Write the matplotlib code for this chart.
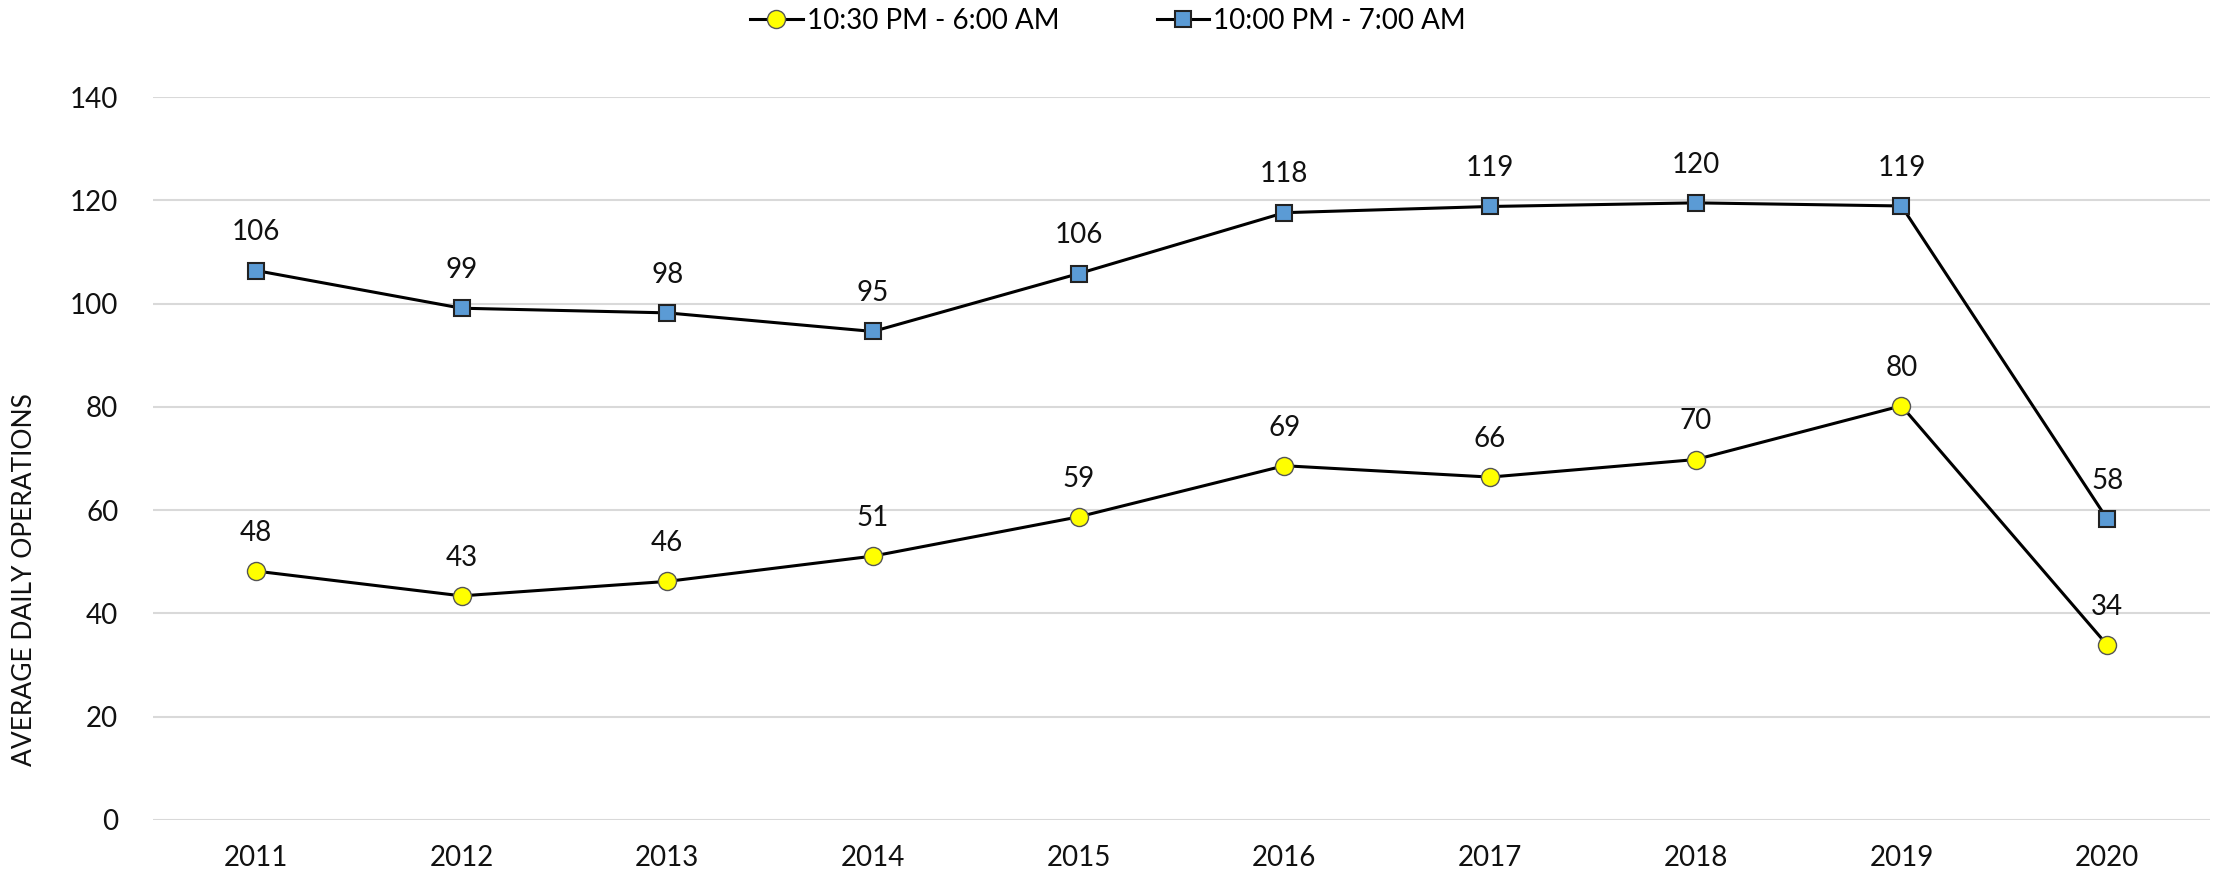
import matplotlib
matplotlib.use("Agg")
import matplotlib.pyplot as plt
from matplotlib.lines import Line2D

years = ["2011", "2012", "2013", "2014", "2015", "2016", "2017", "2018", "2019", "2020"]
late_night = [48.2, 43.4, 46.2, 51.1, 58.7, 68.6, 66.4, 69.8, 80.2, 33.9]      # 10:30 PM - 6:00 AM
night = [106.4, 99.1, 98.2, 94.6, 105.8, 117.6, 118.8, 119.5, 118.9, 58.3]     # 10:00 PM - 7:00 AM
series_names = ["10:30 PM - 6:00 AM", "10:00 PM - 7:00 AM"]
y_ticks = [0, 20, 40, 60, 80, 100, 120, 140]
y_title = "AVERAGE DAILY OPERATIONS"

plt.rcParams['font.family'] = ['Lato', 'DejaVu Sans']
FS = 20

fig = plt.figure(figsize=(22.16, 8.77), dpi=100)
ax = fig.add_axes([153/2216, 1-820/877, (2210-153)/2216, (820-97)/877])

x = list(range(len(years)))
ax.plot(x, late_night, color='black', lw=2.2, marker='o', ms=13,
        mfc='#FFFF00', mec='#555555', mew=1.0, zorder=3)
ax.plot(x, night, color='black', lw=2.2, marker='s', ms=11,
        mfc='#5B9BD5', mec='#222222', mew=1.5, zorder=3)

for xi, v in zip(x, late_night):
    ax.annotate(f"{round(v)}", (xi, v), xytext=(0, 27.5), textcoords='offset points',
                ha='center', va='center', fontsize=FS, color='#111111')
for xi, v in zip(x, night):
    ax.annotate(f"{round(v)}", (xi, v), xytext=(0, 27.5), textcoords='offset points',
                ha='center', va='center', fontsize=FS, color='#111111')

ax.set_xlim(-0.5, len(years) - 0.5)
ax.set_ylim(0, 140)
ax.set_yticks(y_ticks)
ax.set_yticklabels([str(t) for t in y_ticks], fontsize=FS, color='#111111')
ax.set_xticks(x)
ax.set_xticklabels(years, fontsize=FS, color='#111111')
ax.tick_params(axis='both', length=0)
ax.tick_params(axis='y', pad=25)
ax.tick_params(axis='x', pad=18)
ax.yaxis.grid(True, color='#D9D9D9', lw=1.5)
ax.set_axisbelow(True)
for s in ax.spines.values():
    s.set_visible(False)

fig.text(25/2216, 1-580/877, y_title, rotation=90, ha='center', va='center',
         fontsize=19, color='#111111')

handles = [
    Line2D([], [], color='black', lw=2.2, marker='o', ms=13, mfc='#FFFF00', mec='#555555', mew=1.0),
    Line2D([], [], color='black', lw=2.2, marker='s', ms=11, mfc='#5B9BD5', mec='#222222', mew=1.5),
]
fig.legend(handles, series_names, loc='center', bbox_to_anchor=(0.5, 1-21/877),
           ncol=2, frameon=False, fontsize=FS, handlelength=1.9, handletextpad=0.15,
           columnspacing=3.5)

fig.savefig("out.png", dpi=100)
